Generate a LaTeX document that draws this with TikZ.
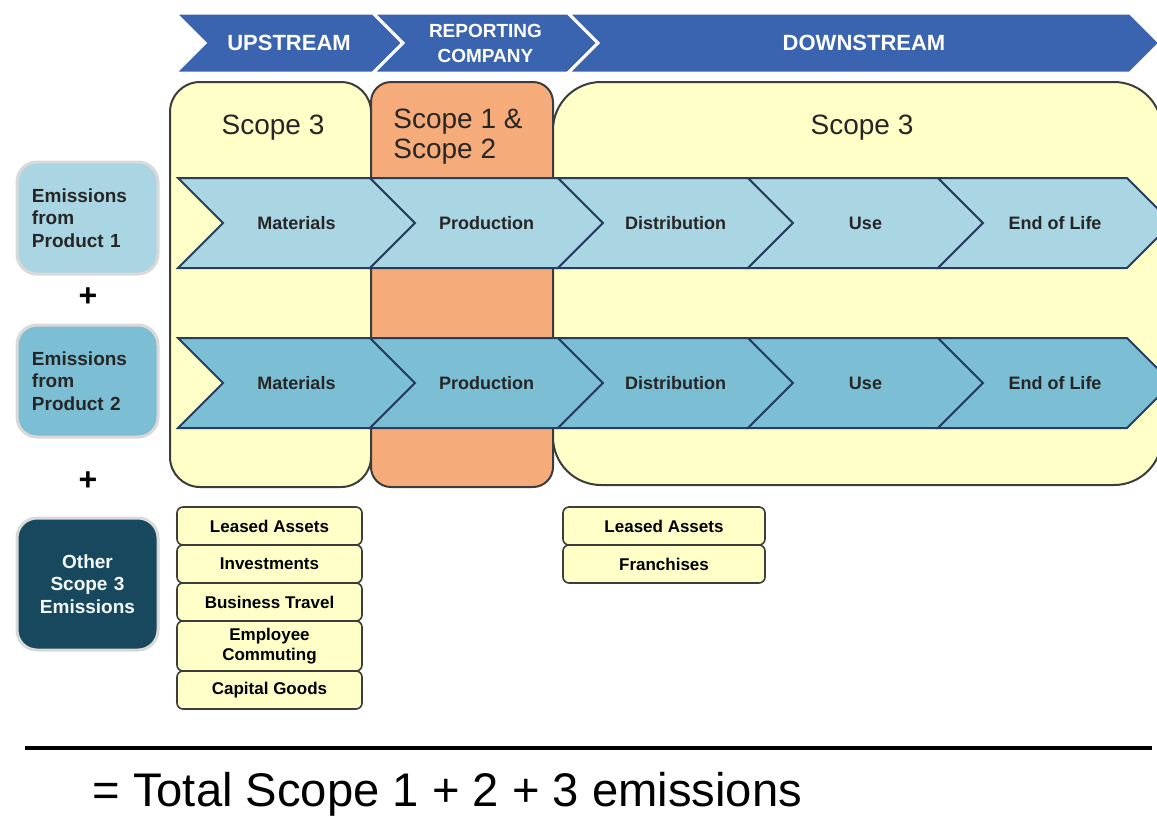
\documentclass[tikz,border=0pt]{standalone}
\usepackage{fontspec}
\setmainfont{Liberation Sans}
\usepackage{tikz}
\usetikzlibrary{positioning}

\definecolor{bannerblue}{RGB}{58,100,176}
\definecolor{paleyellow}{RGB}{255,255,200}
\definecolor{scopeorange}{RGB}{246,172,122}
\definecolor{rowblue}{RGB}{170,213,226}
\definecolor{rowbluedark}{RGB}{124,190,212}
\definecolor{chevline}{RGB}{38,62,96}
\definecolor{otherteal}{RGB}{24,72,94}
\definecolor{boxline}{RGB}{60,60,60}

\tikzstyle{bannerchev} = [fill=bannerblue, draw=white, line width=1.5pt]
\tikzstyle{bannertext} = [text=white, font=\fontsize{11}{13}\selectfont\bfseries, align=center]
\tikzstyle{rowonechev} = [fill=rowblue, draw=chevline, line width=1pt]
\tikzstyle{rowtwochev} = [fill=rowbluedark, draw=chevline, line width=1pt]
\tikzstyle{chevtext} = [font=\fontsize{9}{11}\selectfont\bfseries, text=black!85]
\tikzstyle{scopebox} = [draw=boxline, line width=1pt]
\tikzstyle{scopetext} = [font=\fontsize{14}{15}\selectfont, text=black!85, align=left]
\tikzstyle{sourcebox} = [rectangle, rounded corners=10pt, text width=55.5pt, inner xsep=7.5pt,
                         minimum height=56pt, align=left, draw=black!15, line width=1.5pt,
                         font=\fontsize{9.5}{11.25}\selectfont\bfseries, text=black!85]
\tikzstyle{itembox} = [rectangle, rounded corners=3pt, minimum width=92.5pt, minimum height=19pt,
                       inner sep=1pt, outer sep=0pt, align=center, draw=boxline, fill=paleyellow,
                       line width=0.8pt, font=\fontsize{8.5}{10}\selectfont\bfseries]
\tikzstyle{plussign} = [font=\fontsize{16}{16}\selectfont\bfseries]

% chevron: shape style, text style, name, left x, body end x, centre y, half height, label
\newcommand{\flowchevron}[8]{%
  \draw[#1] (#4,#6-#7) -- (#5,#6-#7) -- (#5+#7,#6) -- (#5,#6+#7) -- (#4,#6+#7) -- (#4+#7,#6) -- cycle;
  \node[#2] (#3) at ({(#4+#5+#7)/2},#6) {#8};}

\begin{document}
\begin{tikzpicture}[x=0.5pt, y=-0.5pt]
    \useasboundingbox (0,0) rectangle (1157,816);

    % Banner
    \flowchevron{bannerchev}{bannertext}{upstream}{175}{373}{43}{30}{UPSTREAM}
    \flowchevron{bannerchev}{bannertext, font=\fontsize{9.5}{12.5}\selectfont\bfseries}{reporting}{373}{568}{43}{30}{REPORTING\\COMPANY}
    \flowchevron{bannerchev}{bannertext}{downstream}{568}{1130}{43}{30}{DOWNSTREAM}

    % Scope areas
    \draw[scopebox, fill=paleyellow, rounded corners=15pt] (170,82) rectangle (371,487);
    \draw[scopebox, fill=scopeorange, rounded corners=10pt] (371,82) rectangle (553,487);
    \draw[scopebox, fill=paleyellow, rounded corners=24pt] (553,82) rectangle (1162,485);
    \node[scopetext] (upscope) at (273,128) {Scope 3};
    \node[scopetext] (ownscope) at (458,137) {Scope 1 \&\\Scope 2};
    \node[scopetext] (downscope) at (862,128) {Scope 3};

    % Row 1: Product 1
    \flowchevron{rowonechev}{chevtext}{matone}{178}{370}{223}{45}{Materials}
    \flowchevron{rowonechev}{chevtext}{prodone}{370}{558}{223}{45}{Production}
    \flowchevron{rowonechev}{chevtext}{distone}{558}{748}{223}{45}{Distribution}
    \flowchevron{rowonechev}{chevtext}{useone}{748}{938}{223}{45}{Use}
    \flowchevron{rowonechev}{chevtext}{eolone}{938}{1127}{223}{45}{End of Life}

    % Row 2: Product 2
    \flowchevron{rowtwochev}{chevtext}{mattwo}{178}{370}{383}{45}{Materials}
    \flowchevron{rowtwochev}{chevtext}{prodtwo}{370}{558}{383}{45}{Production}
    \flowchevron{rowtwochev}{chevtext}{disttwo}{558}{748}{383}{45}{Distribution}
    \flowchevron{rowtwochev}{chevtext}{usetwo}{748}{938}{383}{45}{Use}
    \flowchevron{rowtwochev}{chevtext}{eoltwo}{938}{1127}{383}{45}{End of Life}

    % Emission sources
    \node[sourcebox, fill=rowblue] (productone) at (87.5,218) {Emissions\\from\\Product 1};
    \node[plussign] (plusone) at (88,297) {+};
    \node[sourcebox, fill=rowbluedark] (producttwo) at (87.5,381) {Emissions\\from\\Product 2};
    \node[plussign] (plustwo) at (88,481) {+};
    \node[sourcebox, fill=otherteal, minimum height=66pt, align=center, text=white!88!rowblue] (otherscope) at (87.5,584) {Other\\Scope 3\\Emissions};

    % Other scope 3: upstream
    \node[itembox] (upleased) at (269.5,526) {Leased Assets};
    \node[itembox, below=0pt of upleased] (invest) {Investments};
    \node[itembox, below=0pt of invest] (travel) {Business Travel};
    \node[itembox, below=0pt of travel, minimum height=25pt] (commute) {Employee\\Commuting};
    \node[itembox, below=0pt of commute] (capital) {Capital Goods};

    % Other scope 3: downstream
    \node[itembox, minimum width=101pt] (downleased) at (664,526) {Leased Assets};
    \node[itembox, minimum width=101pt, below=0pt of downleased] (franchise) {Franchises};

    % Total
    \draw[line width=2pt] (25,748) -- (1152,748);
    \node[anchor=base west, inner sep=0pt, font=\fontsize{23.6}{25}\selectfont] (total) at (92,806) {=~Total Scope 1 + 2 + 3 emissions};
\end{tikzpicture}
\end{document}
